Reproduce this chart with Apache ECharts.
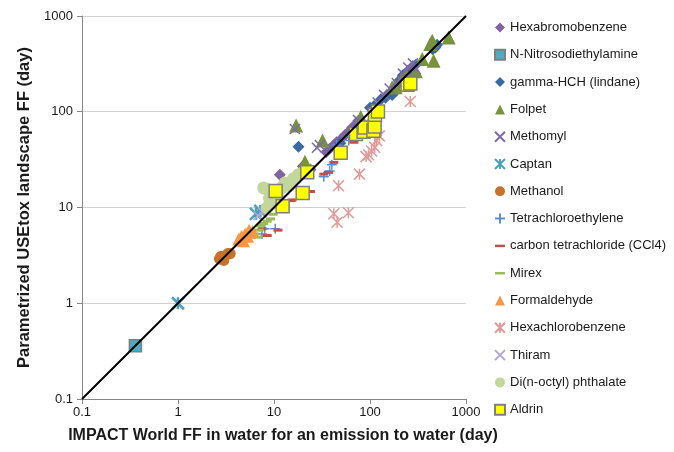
<!DOCTYPE html>
<html>
<head>
<meta charset="utf-8">
<script src="https://cdn.jsdelivr.net/npm/echarts@6/dist/echarts.min.js"></script>
<style>
  html, body { margin: 0; padding: 0; background: #ffffff; }
  #chart { width: 674px; height: 452px; }
</style>
</head>
<body>
<div id="chart"></div>
<script>
// ---------- data (x = IMPACT World FF, y = USEtox FF, days) ----------
const seriesNames = ['Hexabromobenzene', 'N-Nitrosodiethylamine', 'gamma-HCH (lindane)', 'Folpet',
  'Methomyl', 'Captan', 'Methanol', 'Tetrachloroethylene', 'carbon tetrachloride (CCl4)', 'Mirex',
  'Formaldehyde', 'Hexachlorobenzene', 'Thiram', 'Di(n-octyl) phthalate', 'Aldrin'];

const hexabromobenzene = [[11.5, 22], [20, 27], [24, 25], [35, 38], [38, 41], [42, 45], [45, 48], [50, 52],
  [55, 57], [60, 62], [65, 68], [70, 72], [75, 80], [150, 150], [180, 175], [200, 200], [220, 230],
  [240, 250], [250, 270], [270, 280], [280, 300]];
const nNitrosodiethylamine = [[0.36, 0.36]];
const lindane = [[18, 43], [49, 47], [100, 110], [110, 115], [130, 135], [145, 140], [170, 150],
  [185, 165], [200, 210], [220, 240], [260, 250], [300, 310], [450, 450], [480, 470], [500, 500]];
const folpet = [[17, 72], [32, 50], [21, 30], [80, 88], [170, 180], [185, 180], [210, 215], [240, 240],
  [300, 265], [350, 355], [460, 340], [425, 510], [445, 550], [660, 595]];
const methomyl = [[16.5, 66], [30, 45], [28, 42], [75, 82], [120, 125], [140, 150], [160, 175],
  [190, 200], [220, 250], [250, 290], [280, 320], [300, 280]];
const captan = [[1.0, 1.0], [6.5, 8.6], [7.2, 9.2]];
const methanol = [[2.7, 2.9], [2.9, 3.0], [3.1, 3.1], [3.3, 3.3], [3.5, 3.3], [3.0, 2.8], [2.8, 3.1]];
const tetrachloroethylene = [[7.5, 5.3], [8.0, 6.0], [10.3, 6.0], [33, 21], [38, 24], [40, 28],
  [45, 45], [60, 50], [65, 55]];
const carbonTetrachloride = [[7.5, 6.0], [8.5, 5.1], [11, 5.8], [15.4, 12], [15, 11.8], [24, 14.7],
  [33, 22.3], [37, 23.3], [42, 29.6], [68, 48]];
const mirex = [[6.2, 5.3], [6.6, 4.9], [7.0, 5.8], [7.3, 6.5], [7.8, 6.8], [8.5, 7.2], [9.2, 7.6], [9.8, 8.5]];
const formaldehyde = [[4.3, 4.7], [4.6, 5.0], [5.0, 5.3], [5.3, 5.0], [5.6, 5.5], [4.8, 4.5], [5.5, 5.8], [6.0, 5.6]];
const hexachlorobenzene = [[42, 8.6], [45.5, 7.0], [59.5, 8.8], [47, 16.9], [77.6, 22.3], [91, 34],
  [96.6, 35.6], [104, 39], [112, 42.5], [117, 50], [125, 56], [263, 128]];
const thiram = [[6.8, 8.2], [7.6, 9.0], [8.2, 9.4]];
const dinOctylPhthalate = [[7.8, 16], [8.5, 15.5], [9, 12.5], [9.5, 11], [10, 14], [11, 13], [12, 16],
  [13, 18], [14.5, 17], [16, 20], [18, 22], [20, 23], [8.5, 10]];
const aldrin = [[10.4, 14.9], [12.3, 10.3], [19.9, 14.2], [22.2, 23.3], [49.5, 37.4], [71.4, 58.6],
  [85.7, 61.9], [87.7, 68.6], [108.5, 63.4], [111.7, 70.3], [112.6, 93], [121, 100.7], [246, 191], [263, 197]];
const identityLine = [[0.1, 0.1], [1000, 1000]];
const axisMin = 0.1;
const axisMax = 1000;

// ---------- styling ----------
const X_PATH = 'path://M0,0L10,10M10,0L0,10';
const PLUS_PATH = 'path://M5,0L5,10M0,5L10,5';
const STAR_PATH = 'path://M0,0L10,10M10,0L0,10M5,0L5,10';
const DASH_ICON = 'path://M0,4H10V6.5H0Z';

function filled(name, data, symbol, size, color, border) {
  return {
    name: name, type: 'scatter', data: data, symbol: symbol, symbolSize: size,
    itemStyle: border ? { color: color, borderColor: border, borderWidth: 1.5, opacity: 1 }
                      : { color: color, opacity: 1 },
    emphasis: { disabled: true }
  };
}
function stroked(name, data, symbol, size, color, width) {
  return {
    name: name, type: 'scatter', data: data, symbol: symbol, symbolSize: size,
    itemStyle: { color: 'transparent', borderColor: color, borderWidth: width || 1.5, opacity: 1 },
    emphasis: { disabled: true }
  };
}

const series = [
  filled(seriesNames[0], hexabromobenzene, 'diamond', 12, '#8064a2'),
  filled(seriesNames[1], nNitrosodiethylamine, 'rect', 12, '#4bacc6', '#7f7f7f'),
  filled(seriesNames[2], lindane, 'diamond', 12, '#3b6aa3'),
  filled(seriesNames[3], folpet, 'triangle', 14, '#77933c'),
  stroked(seriesNames[4], methomyl, X_PATH, 10, '#7d6aa8', 1.5),
  stroked(seriesNames[5], captan, STAR_PATH, 12, '#4aa0bd', 2.5),
  filled(seriesNames[6], methanol, 'circle', 11, '#c8712a'),
  stroked(seriesNames[7], tetrachloroethylene, PLUS_PATH, 10, '#5b8fd0', 1.5),
  filled(seriesNames[8], carbonTetrachloride, 'rect', [9, 3], '#c0504d'),
  filled(seriesNames[9], mirex, 'rect', [9, 3], '#9bbb59'),
  filled(seriesNames[10], formaldehyde, 'triangle', 13, '#f79646'),
  stroked(seriesNames[11], hexachlorobenzene, STAR_PATH, 11, '#e09a99', 1.5),
  stroked(seriesNames[12], thiram, X_PATH, 9, '#b3a8d6', 1.5),
  filled(seriesNames[13], dinOctylPhthalate, 'circle', 13, '#c3d69b'),
  {
    name: '1:1', type: 'line', data: identityLine, symbol: 'none', silent: true,
    lineStyle: { color: '#000000', width: 2 }
  },
  filled(seriesNames[14], aldrin, 'rect', 13, '#ffff00', '#7f7f7f')
];

const legendData = seriesNames.map(function (n, i) {
  if (i === 8 || i === 9) return { name: n, icon: DASH_ICON };
  return { name: n };
});

const chart = echarts.init(document.getElementById('chart'), null, { renderer: 'canvas' });
const tickFont = { fontFamily: 'Liberation Sans', fontSize: 13, color: '#1a1a1a' };
function tickFormat(v) { return String(v); }

chart.setOption({
  animation: false,
  backgroundColor: '#ffffff',
  grid: { left: 82, right: 208, top: 16, bottom: 53, containLabel: false },
  legend: {
    data: legendData,
    orient: 'vertical',
    left: 489,
    top: 15,
    itemWidth: 10,
    itemHeight: 10,
    itemGap: 12.3,
    selectedMode: false,
    textStyle: { fontFamily: 'Liberation Sans', fontSize: 13, lineHeight: 15, color: '#1a1a1a' }
  },
  xAxis: {
    type: 'log', logBase: 10, min: axisMin, max: axisMax,
    name: 'IMPACT World FF in water for an emission to water (day)',
    nameLocation: 'middle', nameGap: 29,
    nameTextStyle: { fontFamily: 'Liberation Sans', fontSize: 16, fontWeight: 'bold', color: '#1a1a1a', padding: [0, 0, 0, 18] },
    axisLine: { show: true, lineStyle: { color: '#868686', width: 1 } },
    axisTick: { show: true, length: 5, lineStyle: { color: '#868686' } },
    axisLabel: Object.assign({ margin: 7, formatter: tickFormat }, tickFont),
    splitLine: { show: false },
    minorTick: { show: false }
  },
  yAxis: {
    type: 'log', logBase: 10, min: axisMin, max: axisMax,
    name: 'Parametrized USEtox landscape FF (day)',
    nameLocation: 'middle', nameGap: 48, nameRotate: 90,
    nameTextStyle: { fontFamily: 'Liberation Sans', fontSize: 16.5, fontWeight: 'bold', color: '#1a1a1a' },
    axisLine: { show: true, lineStyle: { color: '#868686', width: 1 } },
    axisTick: { show: true, length: 5, lineStyle: { color: '#868686' } },
    axisLabel: Object.assign({ margin: 9, formatter: tickFormat }, tickFont),
    splitLine: { show: true, lineStyle: { color: '#d0d0d0', width: 1.2 } }
  },
  series: series
});
</script>
</body>
</html>
